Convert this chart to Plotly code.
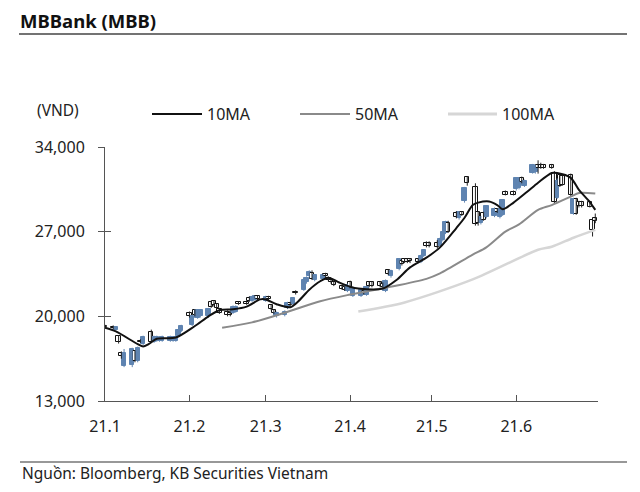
import pandas as pd
import plotly.graph_objects as go

# ---------------- data ----------------
# Trading days (weekdays) 2021-01-01 .. 2021-06-30
DATES = pd.bdate_range("2021-01-01", "2021-06-30")

OPEN = [
    # Jan
    19200, 19100, 18900, 18350, 17000, 15900, 16000, 17100, 16300, 18000, 17700, 18700, 17900, 18000, 18000, 18000, 17950, 18000, 18000, 18400, 18800,
    # Feb
    20300, 19300, 20500, 19900, 20000, 20000, 21200, 21250, 21000, 20600, 20400, 20300, 20300, 20400, 21150, 21150, 21550, 21300, 21350, 21650,
    # Mar
    21300, 21600, 20900, 20500, 20000, 20100, 20700, 21100, 21000, 22050, 22200, 22800, 23300, 23600, 23000, 23100, 23500, 23200, 23000, 22800, 22500, 22400, 22100,
    # Apr
    22800, 21700, 21700, 22100, 21800, 22800, 22800, 22800, 22700, 22100, 23800, 23300, 23900, 24550, 24700, 24700, 24700, 24700, 24500, 24950, 26100, 26100,
    # May
    26100, 25800, 26300, 26900, 27700, 28550, 28100, 28600, 29500, 31500, 30700, 28600, 27700, 28550, 28200, 28300, 28850, 28200, 28400, 30300, 30300,
    # Jun
    30500, 30600, 31450, 30800, 31850, 31900, 32500, 32500, 32500, 32500, 31850, 29800, 31700, 31600, 31700, 28500, 29700, 29450, 29450, 29450, 28000, 28150,
]
HIGH = [
    19300, 19250, 19200, 18450, 17100, 17300, 17400, 17200, 17500, 18100, 18400, 18900, 18400, 18400, 18350, 18400, 18400, 18350, 18400, 19000, 19300,
    20400, 20100, 20600, 20600, 20600, 20700, 21300, 21350, 21100, 20700, 20500, 20400, 20900, 20900, 21200, 21200, 21650, 21700, 21700, 21700,
    21700, 21700, 21000, 20600, 20400, 20500, 21200, 21200, 21600, 22150, 23100, 23300, 23800, 23800, 23500, 23500, 23600, 23300, 23100, 22900, 22600, 22500, 22700,
    22950, 22450, 22300, 22200, 22500, 22900, 22900, 22900, 22800, 23050, 23900, 23850, 24800, 24650, 24800, 24800, 24800, 24800, 25100, 25550, 26200, 26200,
    26300, 26500, 27100, 27900, 27900, 28700, 28700, 28700, 30700, 31600, 31000, 28700, 28300, 28650, 29200, 29000, 28950, 29000, 29700, 30400, 30400,
    31500, 31500, 31550, 31300, 32600, 32500, 32900, 32700, 32600, 32600, 32000, 31400, 31800, 31700, 31800, 29800, 29800, 29550, 29550, 29550, 28100, 28500,
]
LOW = [
    19000, 18950, 18850, 17750, 16500, 15800, 15800, 16200, 16200, 17800, 17600, 17800, 17800, 17900, 17900, 17900, 17900, 17900, 17900, 18300, 18700,
    19900, 19200, 20000, 19800, 19900, 19900, 20700, 20800, 20600, 20200, 20000, 20000, 20200, 20300, 20950, 20950, 21200, 21200, 21300, 21350,
    21200, 21300, 20500, 20200, 19900, 20000, 20600, 20800, 20900, 21800, 22100, 22700, 23200, 23000, 22900, 23000, 23200, 22900, 22700, 22500, 22200, 22100, 22000,
    22300, 21600, 21600, 21800, 21700, 22400, 22400, 22400, 22300, 22000, 23400, 23200, 23800, 24200, 24400, 24400, 24400, 24400, 24400, 24900, 25700, 25700,
    25600, 25700, 26200, 26800, 26900, 28100, 28000, 28300, 29400, 30800, 27500, 27500, 27600, 27900, 28100, 28200, 28550, 28100, 28300, 30000, 30000,
    30400, 30500, 31000, 30700, 31800, 31800, 31800, 32200, 32200, 32200, 29300, 29700, 30700, 30800, 29900, 28400, 28400, 29000, 29000, 29000, 26600, 27700,
]
CLOSE = [
    19100, 19050, 19100, 17850, 16700, 17000, 17300, 16300, 17400, 17900, 18300, 17900, 18300, 18300, 18250, 18300, 18300, 18300, 18300, 18900, 19200,
    20000, 20000, 20100, 20500, 20500, 20600, 20800, 20900, 20700, 20300, 20100, 20100, 20800, 20800, 21000, 21000, 21250, 21600, 21650, 21400,
    21600, 21400, 20600, 20300, 20300, 20400, 21100, 20900, 21500, 21900, 23000, 23200, 23700, 23100, 23400, 23400, 23300, 23000, 22800, 22600, 22300, 22200, 22600,
    22400, 22300, 22200, 21900, 22400, 22500, 22500, 22500, 22400, 22900, 23500, 23750, 24700, 24300, 24500, 24500, 24550, 24500, 25000, 25500, 25800, 25800,
    25700, 26400, 27000, 27800, 27000, 28200, 28600, 28400, 30600, 31000, 27600, 27700, 28200, 28000, 29100, 28900, 28650, 28900, 29600, 30050, 30050,
    31400, 31400, 31100, 31200, 32500, 32400, 32300, 32300, 32300, 32250, 29450, 31200, 30800, 30900, 30050, 29700, 28500, 29100, 29100, 29050, 27150, 27850,
]

# Moving averages
MA10_DATES = ["2021-01-01", "2021-01-05", "2021-01-13", "2021-01-15", "2021-01-17", "2021-01-20",
              "2021-01-27", "2021-02-03", "2021-02-08", "2021-02-12", "2021-02-17", "2021-02-22",
              "2021-02-27", "2021-03-01", "2021-03-05", "2021-03-10", "2021-03-13", "2021-03-17",
              "2021-03-21", "2021-03-24", "2021-03-28", "2021-04-01", "2021-04-04", "2021-04-13",
              "2021-04-18", "2021-04-23", "2021-04-29", "2021-05-04", "2021-05-10", "2021-05-13",
              "2021-05-16", "2021-05-18", "2021-05-22", "2021-05-25", "2021-05-27", "2021-05-31",
              "2021-06-05", "2021-06-09", "2021-06-14", "2021-06-16", "2021-06-21", "2021-06-24",
              "2021-06-28", "2021-06-30"]
MA10_VALUES = [19050, 18750, 17700, 17500, 17700, 18150,
               18250, 19200, 20000, 20500, 20580, 20800,
               21400, 21400, 21000, 20750, 21250, 22200,
               22900, 23200, 22800, 22450, 22300, 22300,
               23000, 24050, 24850, 25700, 27300, 28150,
               29200, 29400, 29500, 29200, 28850, 29400,
               30300, 31050, 31850, 31850, 31450, 30450,
               29450, 28800]

MA50_DATES = ["2021-02-13", "2021-02-24", "2021-03-08", "2021-03-21", "2021-04-01", "2021-04-15",
              "2021-04-29", "2021-05-04", "2021-05-16", "2021-05-21", "2021-05-28", "2021-06-02",
              "2021-06-09", "2021-06-14", "2021-06-21", "2021-06-24", "2021-06-30"]
MA50_VALUES = [19050, 19500, 20300, 21250, 21800, 22400,
               23100, 23550, 25100, 25700, 27000, 27600,
               28800, 29200, 29900, 30200, 30150]

MA100_DATES = ["2021-04-04", "2021-04-21", "2021-05-16", "2021-06-09", "2021-06-14", "2021-06-22",
               "2021-06-30"]
MA100_VALUES = [20400, 21150, 23050, 25500, 25750, 26500, 27150]

Y_TICKS = [13000, 20000, 27000, 34000]
X_TICKS = ["2021-01-01", "2021-02-01", "2021-03-01", "2021-04-01", "2021-05-01", "2021-06-01", "2021-07-01"]
X_LABELS = ["21.1", "21.2", "21.3", "21.4", "21.5", "21.6", ""]

assert len(DATES) == len(OPEN) == len(HIGH) == len(LOW) == len(CLOSE)

# ---------------- figure ----------------
FONT = "Noto Sans"
OFF = 8                      # page body margin
W, H = 640 - OFF, 492 - OFF  # figure size
# plot area in page pixels
L, R, T, B = 105, 598, 147, 401


def px(x):
    return (x - L) / (R - L)


def py(y):
    return (B - y) / (B - T)


BLUE = "#5f84b1"
up = [c >= o for o, c in zip(OPEN, CLOSE)]
body_base = [min(o, c) for o, c in zip(OPEN, CLOSE)]
body_h = [max(abs(c - o), 80) for o, c in zip(OPEN, CLOSE)]
fill = [BLUE if u else "white" for u in up]
edge = [BLUE if u else "#111111" for u in up]

fig = go.Figure()

# wicks
for flag, color in ((True, BLUE), (False, "#222222")):
    wx, wy = [], []
    for d, h, l, u in zip(DATES, HIGH, LOW, up):
        if u == flag:
            wx += [d, d, None]
            wy += [l, h, None]
    fig.add_trace(go.Scatter(x=wx, y=wy, mode="lines", line=dict(color=color, width=1),
                             showlegend=False, hoverinfo="skip"))

# bodies
fig.add_trace(go.Bar(x=DATES, y=body_h, base=body_base, width=1.6 * 86400000,
                     marker=dict(color=fill, line=dict(color=edge, width=1)),
                     showlegend=False, name="MBB"))

fig.add_trace(go.Scatter(x=MA100_DATES, y=MA100_VALUES, mode="lines", name="100MA",
                         line=dict(color="#d6d6d6", width=2.5, shape="spline", smoothing=0.8),
                         showlegend=False))
fig.add_trace(go.Scatter(x=MA50_DATES, y=MA50_VALUES, mode="lines", name="50MA",
                         line=dict(color="#8a8a8a", width=2, shape="spline", smoothing=0.8),
                         showlegend=False))
fig.add_trace(go.Scatter(x=MA10_DATES, y=MA10_VALUES, mode="lines", name="10MA",
                         line=dict(color="#111111", width=2, shape="spline", smoothing=0.8),
                         showlegend=False))

# invisible trace for overlay y axis (inside half of crossing ticks)
fig.add_trace(go.Scatter(x=[DATES[0]], y=[Y_TICKS[0]], yaxis="y2", mode="markers",
                         marker=dict(opacity=0), showlegend=False, hoverinfo="skip"))

fig.update_layout(
    width=W, height=H,
    margin=dict(l=L - OFF, r=W - (R - OFF), t=T - OFF, b=H - (B - OFF), pad=0),
    paper_bgcolor="white", plot_bgcolor="white",
    font=dict(family=FONT, size=16, color="#222222"),
    showlegend=False, bargap=0,
    xaxis=dict(
        type="date", range=["2021-01-01", "2021-07-01"],
        tickmode="array", tickvals=X_TICKS, ticktext=X_LABELS,
        ticks="inside", ticklen=6, tickcolor="#555555", tickwidth=1,
        showline=True, linecolor="#555555", linewidth=1,
        showgrid=False, zeroline=False,
        ticklabelstandoff=11,
        tickfont=dict(family=FONT, size=16, color="#222222"),
    ),
    yaxis=dict(
        range=[13000, 34000], tickmode="array", tickvals=Y_TICKS,
        tickformat=",d",
        ticks="outside", ticklen=6, tickcolor="#555555", tickwidth=1,
        showline=True, linecolor="#555555", linewidth=1,
        showgrid=False, zeroline=False, ticklabelstandoff=10,
        tickfont=dict(family=FONT, size=16, color="#222222"),
    ),
    yaxis2=dict(
        range=[13000, 34000], overlaying="y", side="left", tickmode="array", tickvals=Y_TICKS,
        ticks="inside", ticklen=6, tickcolor="#555555", tickwidth=1,
        showticklabels=False, showline=False, showgrid=False, zeroline=False,
    ),
)

shapes = []
annotations = []
# title and rule
annotations.append(dict(text="<b>MBBank (MBB)</b>", x=px(19), y=py(20), xref="paper", yref="paper",
                        xanchor="left", yanchor="middle", showarrow=False, borderpad=0,
                        font=dict(family=FONT, size=18.5, color="#111111")))
shapes.append(dict(type="line", xref="paper", yref="paper", x0=px(19), x1=px(627), y0=py(34), y1=py(34),
                   line=dict(color="#444444", width=1.5)))
# unit label
annotations.append(dict(text="(VND)", x=px(35), y=py(110), xref="paper", yref="paper",
                        xanchor="left", yanchor="middle", showarrow=False,
                        font=dict(family=FONT, size=15.5, color="#222222")))
# legend
legend_items = [("10MA", "#111111", 2, 152, 202), ("50MA", "#8a8a8a", 2, 300, 350), ("100MA", "#d6d6d6", 3, 448, 497)]
for name, color, width, x0, x1 in legend_items:
    shapes.append(dict(type="line", xref="paper", yref="paper", x0=px(x0), x1=px(x1), y0=py(114), y1=py(114),
                       line=dict(color=color, width=width)))
    annotations.append(dict(text=name, x=px(x1 + 3), y=py(114), xref="paper", yref="paper",
                            xanchor="left", yanchor="middle", showarrow=False,
                            font=dict(family=FONT, size=16, color="#222222")))
# footer
shapes.append(dict(type="line", xref="paper", yref="paper", x0=px(20), x1=px(627), y0=py(462), y1=py(462),
                   line=dict(color="#333333", width=1.2)))
annotations.append(dict(text="Nguồn: Bloomberg, KB Securities Vietnam", x=px(20), y=py(473), xref="paper", yref="paper",
                        xanchor="left", yanchor="middle", showarrow=False,
                        font=dict(family=FONT, size=15.5, color="#222222")))

fig.update_layout(shapes=shapes, annotations=annotations)
fig.write_html("out.html")
